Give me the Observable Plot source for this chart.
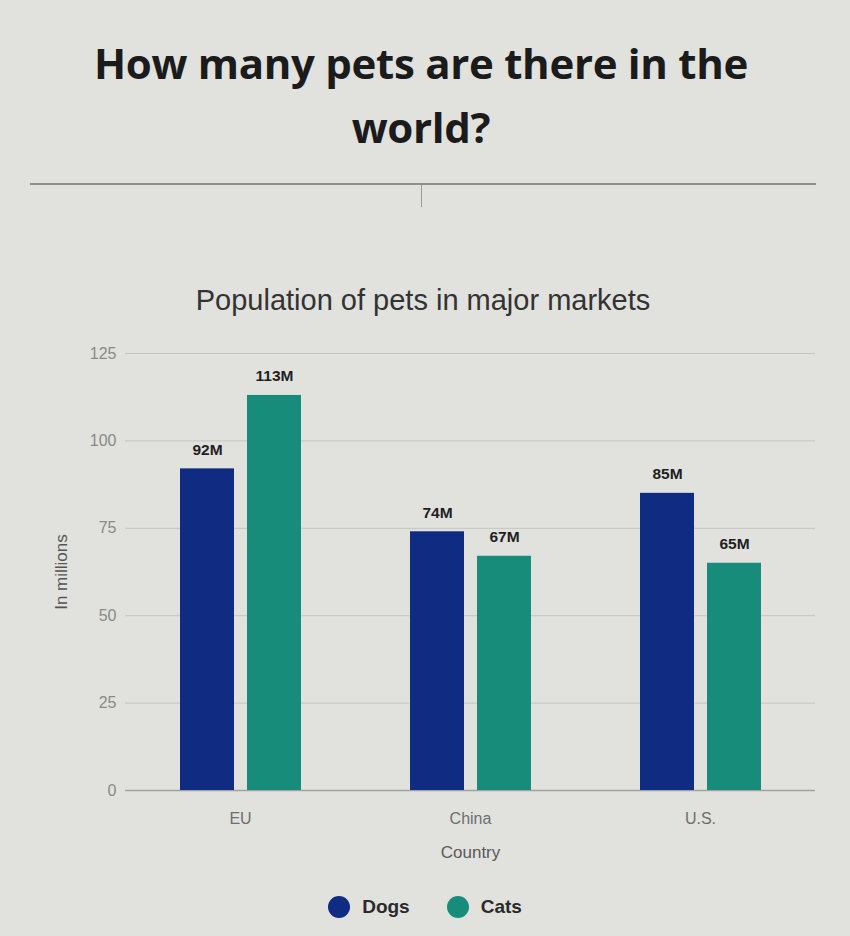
<!DOCTYPE html>
<html>
<head>
<meta charset="utf-8">
<script src="https://cdn.jsdelivr.net/npm/d3@7"></script>
<script src="https://cdn.jsdelivr.net/npm/@observablehq/plot@0.6"></script>
<style>
  html, body { margin: 0; padding: 0; background: #e1e1de; }
  #page { position: relative; width: 850px; height: 936px; overflow: hidden; background: #e1e1de; }
  #title { position: absolute; top: 31px; left: 0; width: 842px; text-align: center;
           font-family: "Open Sans", sans-serif; font-weight: 700; font-size: 42px; line-height: 64px; color: #1b1b1b; letter-spacing: -0.3px; }
  #rule { position: absolute; top: 183px; left: 30px; width: 786px; height: 0; border-top: 2px solid #8e8e8c; }
  #caret { position: absolute; top: 185px; left: 421px; width: 0; height: 22px; border-left: 1px solid #9a9a98; }
  #subtitle { position: absolute; top: 284px; left: 0; width: 846px; text-align: center;
              font-family: "Liberation Sans", Arial, sans-serif; font-size: 29px; color: #333; }
  #chart { position: absolute; top: 330px; left: 0; }
  #legend { position: absolute; top: 896px; left: 0; width: 850px; display: flex; justify-content: center; gap: 37px;
            font-family: "Liberation Sans", Arial, sans-serif; font-weight: 700; font-size: 19px; color: #2a2a2a; padding-left: 0px; }
  .item { display: flex; align-items: center; gap: 12px; }
  .dot { width: 22px; height: 22px; border-radius: 50%; display: inline-block; }
</style>
</head>
<body>
<div id="page">
  <div id="title">How many pets are there in the<br>world?</div>
  <div id="rule"></div>
  <div id="caret"></div>
  <div id="subtitle">Population of pets in major markets</div>
  <div id="chart"></div>
  <div id="legend"></div>
</div>
<script>
const countries = ["EU", "China", "U.S."];
const series = ["Dogs", "Cats"];
const dogs = [92, 74, 85];
const cats = [113, 67, 65];
const valueLabels = { Dogs: ["92M", "74M", "85M"], Cats: ["113M", "67M", "65M"] };
const yTicks = [0, 25, 50, 75, 100, 125];
const colors = ["#0f2b82", "#178c7b"];
const yTitle = "In millions";
const xTitle = "Country";

const rows = [];
countries.forEach((c, i) => {
  rows.push({ country: c, series: "Dogs", value: dogs[i], label: valueLabels.Dogs[i] });
  rows.push({ country: c, series: "Cats", value: cats[i], label: valueLabels.Cats[i] });
});
const dogRows = rows.filter(d => d.series === "Dogs");
const catRows = rows.filter(d => d.series === "Cats");

const labelFont = { fontFamily: "Liberation Sans, Arial, sans-serif", fontWeight: 700, fontSize: 15.5, fill: "#1f1f1f" };

const plot = Plot.plot({
  width: 850,
  height: 550,
  marginTop: 23,
  marginBottom: 90,
  marginLeft: 125,
  marginRight: 35,
  style: { background: "transparent", fontFamily: "Liberation Sans, Arial, sans-serif", fontSize: "16px", color: "#777" },
  x: { domain: countries, padding: 0 },
  y: { domain: [0, 125] },
  color: { domain: series, range: colors },
  marks: [
    Plot.gridY(yTicks, { stroke: "#c4c4c1", strokeOpacity: 1 }),
    Plot.ruleY([0], { stroke: "#a2a2a0", strokeWidth: 1.5 }),
    Plot.barY(dogRows, { x: "country", y: "value", fill: "series", insetLeft: 55, insetRight: 121 }),
    Plot.barY(catRows, { x: "country", y: "value", fill: "series", insetLeft: 122, insetRight: 54 }),
    Plot.text(dogRows, { x: "country", y: "value", text: "label", dx: -33, dy: -19, ...labelFont }),
    Plot.text(catRows, { x: "country", y: "value", text: "label", dx: 34, dy: -19, ...labelFont }),
    Plot.axisY(yTicks, { tickSize: 0, tickPadding: 9, fill: "#8a8a88", fontSize: 16, label: null }),
    Plot.axisX({ tickSize: 0, tickPadding: 22, fill: "#6e6e6c", fontSize: 16, label: null }),
    Plot.text([yTitle], { frameAnchor: "left", textAnchor: "middle", dx: -64, rotate: -90, text: d => d,
      fill: "#555", fontSize: 17, fontFamily: "Liberation Sans, Arial, sans-serif" }),
    Plot.text([xTitle], { frameAnchor: "bottom", dy: 67, text: d => d,
      fill: "#5a5a58", fontSize: 17, fontFamily: "Liberation Sans, Arial, sans-serif" })
  ]
});
document.getElementById("chart").appendChild(plot);

const legend = document.getElementById("legend");
series.forEach((s, i) => {
  const item = document.createElement("span");
  item.className = "item";
  const dot = document.createElement("span");
  dot.className = "dot";
  dot.style.background = colors[i];
  const t = document.createElement("span");
  t.textContent = s;
  item.appendChild(dot);
  item.appendChild(t);
  legend.appendChild(item);
});
</script>
</body>
</html>
